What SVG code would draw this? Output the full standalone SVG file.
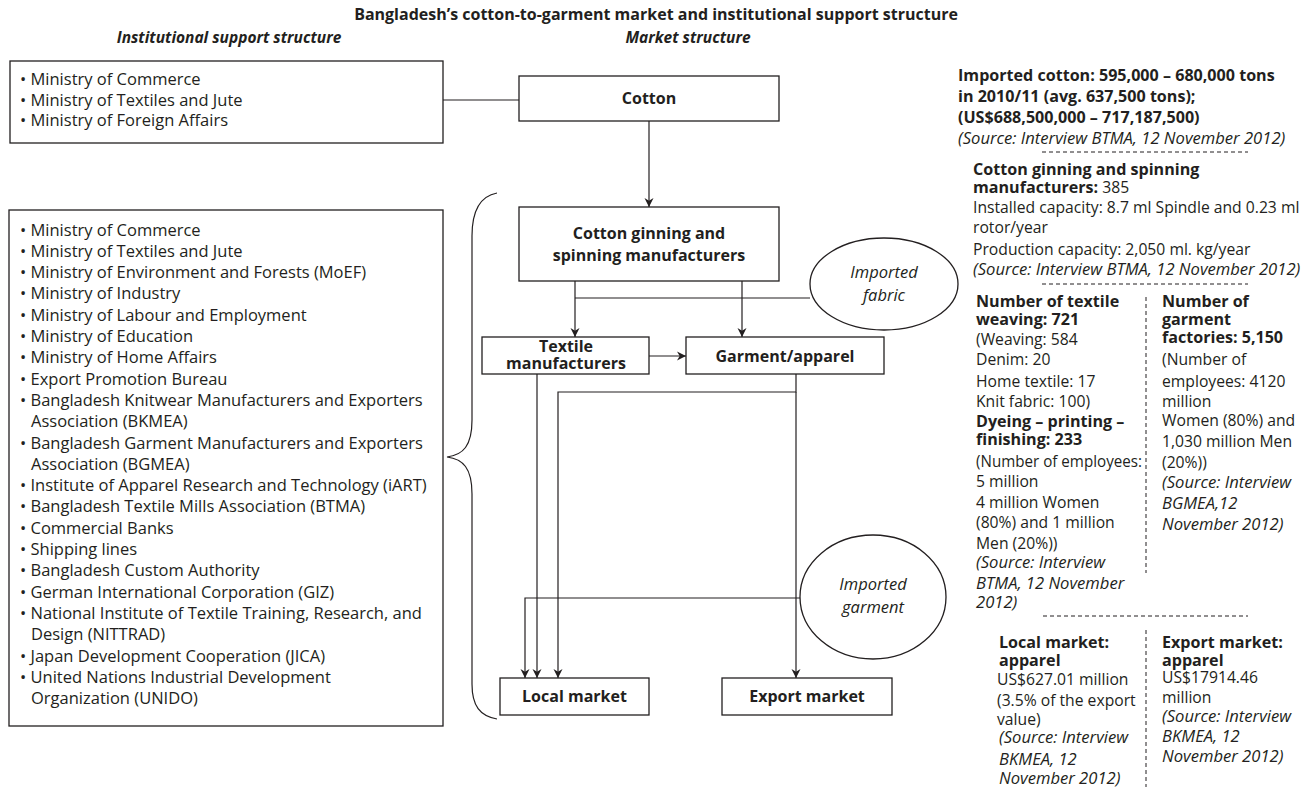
<svg xmlns="http://www.w3.org/2000/svg" width="1307" height="789" viewBox="0 0 1307 789">
<style>
text{font-family:"Open Sans","Noto Sans","Liberation Sans",sans-serif;fill:#231f20}
.t{font-size:16px;font-weight:bold}
.h{font-size:15.5px;font-weight:bold;font-style:italic}
.l{font-size:16.5px}
.b{font-size:16px;font-weight:bold}
.e{font-size:16.5px;font-style:italic}
.r{font-size:15.7px}
.rb{font-size:16.1px;font-weight:bold}
.ri{font-size:16.6px;font-style:italic}
.box{fill:#fff;stroke:#231f20;stroke-width:1.3}
.ln{fill:none;stroke:#231f20;stroke-width:1.2}
.dash{fill:none;stroke:#231f20;stroke-width:1;stroke-dasharray:4 3}
</style>
<defs>
<marker id="ah" viewBox="0 0 10 10" refX="10" refY="5" markerWidth="9" markerHeight="10" markerUnits="userSpaceOnUse" orient="auto">
<path d="M0,0 L10,5 L0,10 L3,5 z" fill="#231f20"/>
</marker>
</defs>
<rect width="1307" height="789" fill="#fff"/>

<g id="headings">
<text class="t" x="656" y="20" text-anchor="middle">Bangladesh’s cotton-to-garment market and institutional support structure</text>
<text class="h" x="229" y="43" text-anchor="middle">Institutional support structure</text>
<text class="h" x="688" y="43" text-anchor="middle">Market structure</text>
</g>

<g id="connectors">
<line class="ln" x1="443" y1="100" x2="519" y2="100"/>
<line class="ln" x1="649" y1="121" x2="649" y2="207" marker-end="url(#ah)"/>
<line class="ln" x1="575" y1="281" x2="575" y2="337" marker-end="url(#ah)"/>
<line class="ln" x1="742" y1="281" x2="742" y2="337" marker-end="url(#ah)"/>
<line class="ln" x1="575" y1="298" x2="810" y2="298"/>
<line class="ln" x1="649" y1="356" x2="686" y2="356" marker-end="url(#ah)"/>
<line class="ln" x1="537" y1="374" x2="537" y2="678" marker-end="url(#ah)"/>
<polyline class="ln" points="796,374 796,392 558,392 558,678" marker-end="url(#ah)"/>
<line class="ln" x1="796" y1="392" x2="796" y2="678" marker-end="url(#ah)"/>
<polyline class="ln" points="800,598 525,598 525,678" marker-end="url(#ah)"/>
<path class="ln" d="M497,193 C481,196 472,210 472,236 L472,420 C472,446 463,455 447,457 C463,459 472,468 472,494 L472,684 C472,706 480,716 497,719"/>
</g>

<g id="node-gov-top">
<rect class="box" x="10" y="61" width="433" height="82"/>
<text class="l" x="20" y="85">• Ministry of Commerce</text>
<text class="l" x="20" y="106">• Ministry of Textiles and Jute</text>
<text class="l" x="20" y="126">• Ministry of Foreign Affairs</text>
</g>

<g id="node-gov-list">
<rect class="box" x="9" y="210" width="434" height="516"/>
<text class="l" x="20" y="235.5">• Ministry of Commerce</text>
<text class="l" x="20" y="256.8">• Ministry of Textiles and Jute</text>
<text class="l" x="20" y="278.1">• Ministry of Environment and Forests (MoEF)</text>
<text class="l" x="20" y="299.4">• Ministry of Industry</text>
<text class="l" x="20" y="320.7">• Ministry of Labour and Employment</text>
<text class="l" x="20" y="342">• Ministry of Education</text>
<text class="l" x="20" y="363.3">• Ministry of Home Affairs</text>
<text class="l" x="20" y="384.6">• Export Promotion Bureau</text>
<text class="l" x="20" y="405.9">• Bangladesh Knitwear Manufacturers and Exporters</text>
<text class="l" x="31" y="427.2">Association (BKMEA)</text>
<text class="l" x="20" y="448.5">• Bangladesh Garment Manufacturers and Exporters</text>
<text class="l" x="31" y="469.8">Association (BGMEA)</text>
<text class="l" x="20" y="491.1">• Institute of Apparel Research and Technology (iART)</text>
<text class="l" x="20" y="512.4">• Bangladesh Textile Mills Association (BTMA)</text>
<text class="l" x="20" y="533.7">• Commercial Banks</text>
<text class="l" x="20" y="555">• Shipping lines</text>
<text class="l" x="20" y="576.3">• Bangladesh Custom Authority</text>
<text class="l" x="20" y="597.6">• German International Corporation (GIZ)</text>
<text class="l" x="20" y="618.9">• National Institute of Textile Training, Research, and</text>
<text class="l" x="31" y="640.2">Design (NITTRAD)</text>
<text class="l" x="20" y="661.5">• Japan Development Cooperation (JICA)</text>
<text class="l" x="20" y="682.8">• United Nations Industrial Development</text>
<text class="l" x="31" y="704.1">Organization (UNIDO)</text>
</g>

<g id="node-cotton">
<rect class="box" x="519" y="76" width="260" height="45"/>
<text class="b" x="649" y="104" text-anchor="middle">Cotton</text>
</g>

<g id="node-ginning">
<rect class="box" x="519" y="207" width="260" height="74"/>
<text class="b" x="649" y="238.5" text-anchor="middle">Cotton ginning and</text>
<text class="b" x="649" y="261" text-anchor="middle">spinning manufacturers</text>
</g>

<g id="node-imported-fabric">
<ellipse class="box" cx="884" cy="284" rx="74" ry="46"/>
<text class="e" x="884" y="278" text-anchor="middle">Imported</text>
<text class="e" x="884" y="301" text-anchor="middle">fabric</text>
</g>

<g id="node-textile">
<rect class="box" x="482" y="337" width="167" height="37"/>
<text class="b" x="566" y="352" text-anchor="middle">Textile</text>
<text class="b" x="566" y="368.5" text-anchor="middle">manufacturers</text>
</g>

<g id="node-garment">
<rect class="box" x="686" y="337" width="198" height="37"/>
<text class="b" x="785" y="361.5" text-anchor="middle">Garment/apparel</text>
</g>

<g id="node-imported-garment">
<ellipse class="box" cx="873" cy="597" rx="73" ry="62"/>
<text class="e" x="873" y="590" text-anchor="middle">Imported</text>
<text class="e" x="873" y="613" text-anchor="middle">garment</text>
</g>

<g id="node-local-market">
<rect class="box" x="500" y="678" width="149" height="37"/>
<text class="b" x="574.5" y="702" text-anchor="middle">Local market</text>
</g>

<g id="node-export-market">
<rect class="box" x="722" y="678" width="170" height="37"/>
<text class="b" x="807" y="702" text-anchor="middle">Export market</text>
</g>

<g id="notes">
<text class="rb" x="958" y="81">Imported cotton: 595,000 – 680,000 tons</text>
<text class="rb" x="958" y="102">in 2010/11 (avg. 637,500 tons);</text>
<text class="rb" x="958" y="123">(US$688,500,000 – 717,187,500)</text>
<text class="ri" x="958" y="144">(Source: Interview BTMA, 12 November 2012)</text>
<line class="dash" x1="1042" y1="152" x2="1248" y2="152"/>

<text class="rb" x="973" y="175">Cotton ginning and spinning</text>
<text class="r" x="973" y="193"><tspan class="rb">manufacturers:</tspan> 385</text>
<text class="r" x="973" y="213">Installed capacity: 8.7 ml Spindle and 0.23 ml</text>
<text class="r" x="973" y="233">rotor/year</text>
<text class="r" x="973" y="255">Production capacity: 2,050 ml. kg/year</text>
<text class="ri" x="973" y="275">(Source: Interview BTMA, 12 November 2012)</text>
<line class="dash" x1="1042" y1="284" x2="1248" y2="284"/>

<text class="rb" x="976" y="307">Number of textile</text>
<text class="rb" x="976" y="325">weaving: 721</text>
<text class="r" x="976" y="345">(Weaving: 584</text>
<text class="r" x="976" y="365">Denim: 20</text>
<text class="r" x="976" y="387">Home textile: 17</text>
<text class="r" x="976" y="407">Knit fabric: 100)</text>
<text class="rb" x="976" y="427">Dyeing – printing –</text>
<text class="rb" x="976" y="445">finishing: 233</text>
<text class="r" x="976" y="467" textLength="166" lengthAdjust="spacingAndGlyphs">(Number of employees:</text>
<text class="r" x="976" y="487">5 million</text>
<text class="r" x="976" y="508">4 million Women</text>
<text class="r" x="976" y="528">(80%) and 1 million</text>
<text class="r" x="976" y="549">Men (20%))</text>
<text class="ri" x="976" y="568">(Source: Interview</text>
<text class="ri" x="976" y="589">BTMA, 12 November</text>
<text class="ri" x="976" y="608">2012)</text>

<line class="dash" x1="1146" y1="297" x2="1146" y2="573"/>

<text class="rb" x="1162" y="307">Number of</text>
<text class="rb" x="1162" y="325">garment</text>
<text class="rb" x="1162" y="343">factories: 5,150</text>
<text class="r" x="1162" y="365">(Number of</text>
<text class="r" x="1162" y="387">employees: 4120</text>
<text class="r" x="1162" y="407">million</text>
<text class="r" x="1162" y="426">Women (80%) and</text>
<text class="r" x="1162" y="447">1,030 million Men</text>
<text class="r" x="1162" y="468">(20%))</text>
<text class="ri" x="1162" y="488">(Source: Interview</text>
<text class="ri" x="1162" y="509">BGMEA,12</text>
<text class="ri" x="1162" y="530">November 2012)</text>

<line class="dash" x1="1043" y1="616" x2="1248" y2="616"/>

<text class="rb" x="999" y="648">Local market:</text>
<text class="rb" x="999" y="666">apparel</text>
<text class="r" x="997" y="685">US$627.01 million</text>
<text class="r" x="997" y="706">(3.5% of the export</text>
<text class="r" x="997" y="725">value)</text>
<text class="ri" x="999" y="743">(Source: Interview</text>
<text class="ri" x="999" y="765">BKMEA, 12</text>
<text class="ri" x="999" y="784">November 2012)</text>

<line class="dash" x1="1146" y1="630" x2="1146" y2="787"/>

<text class="rb" x="1162" y="648">Export market:</text>
<text class="rb" x="1162" y="666">apparel</text>
<text class="r" x="1162" y="683">US$17914.46</text>
<text class="r" x="1162" y="703">million</text>
<text class="ri" x="1162" y="722">(Source: Interview</text>
<text class="ri" x="1162" y="742">BKMEA, 12</text>
<text class="ri" x="1162" y="762">November 2012)</text>
</g>
</svg>
